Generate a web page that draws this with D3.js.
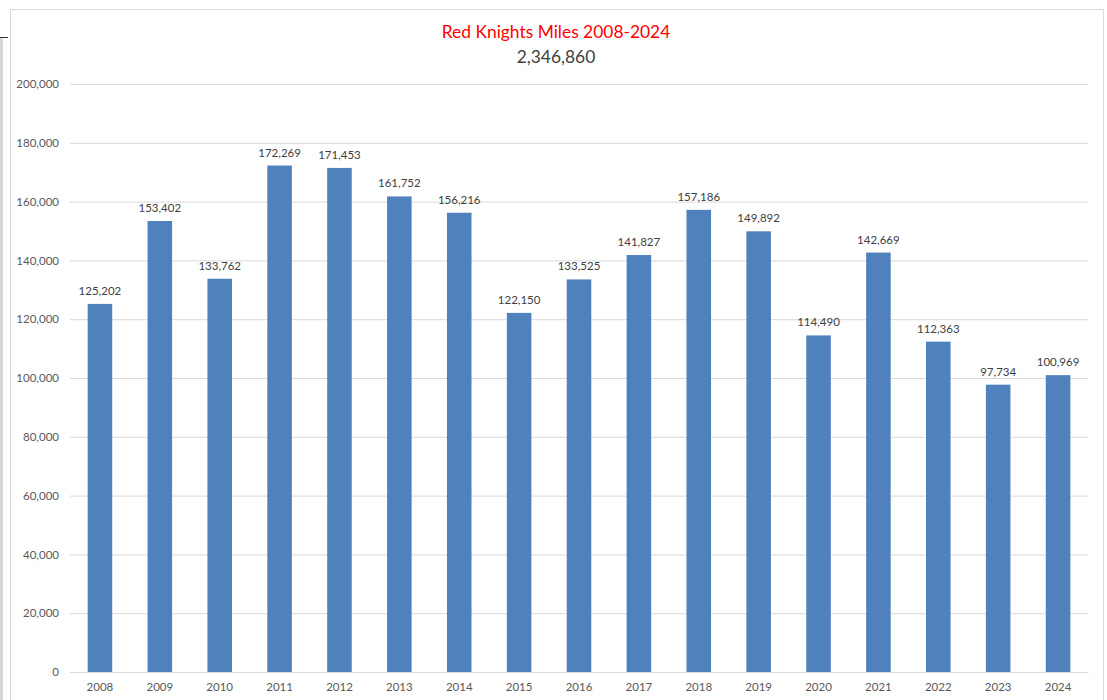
<!DOCTYPE html>
<html>
<head>
<meta charset="utf-8">
<script src="https://cdn.jsdelivr.net/npm/d3@7"></script>
<style>
  body { margin: 0; background: #fff; }
  svg { display: block; font-family: Lato, "Open Sans", sans-serif; }
</style>
</head>
<body>
<div id="chart"></div>
<script>
// data
const years = ["2008","2009","2010","2011","2012","2013","2014","2015","2016","2017","2018","2019","2020","2021","2022","2023","2024"];
const miles = [125202,153402,133762,172269,171453,161752,156216,122150,133525,141827,157186,149892,114490,142669,112363,97734,100969];
const yTicks = [0,20000,40000,60000,80000,100000,120000,140000,160000,180000,200000];
const titleText = "Red Knights Miles 2008-2024";
const totalText = "2,346,860";

const W = 1107, H = 700;
const margin = ({top: 84, right: 19, bottom: 28, left: 70});
const width = W - margin.left - margin.right;
const height = H - margin.top - margin.bottom;

const root = d3.select("#chart").append("svg")
  .attr("width", W)
  .attr("height", H);

// spreadsheet cell edge on the far left
root.append("rect").attr("x", 0).attr("y", 37).attr("width", 3).attr("height", H - 37).attr("fill", "#d6d6d6");
root.append("line").attr("x1", 0).attr("x2", 8).attr("y1", 37.5).attr("y2", 37.5).attr("stroke", "#333");

// chart frame
root.append("rect")
  .attr("x", 10.5).attr("y", 9.5)
  .attr("width", 1093).attr("height", H)
  .attr("fill", "#fff")
  .attr("stroke", "#d9d9d9");

// titles
root.append("text")
  .attr("x", 556).attr("y", 38)
  .attr("text-anchor", "middle")
  .attr("fill", "#ff0000")
  .style("font-size", "17.4px")
  .text(titleText);

root.append("text")
  .attr("x", 556).attr("y", 63)
  .attr("text-anchor", "middle")
  .attr("fill", "#404040")
  .style("font-size", "17.4px")
  .text(totalText);

const svg = root.append("g")
  .attr("transform", `translate(${margin.left},${margin.top})`);

const xScale = d3.scaleBand()
  .domain(years)
  .range([0, width])
  .paddingInner(0.59)
  .paddingOuter(0.295);

const yScale = d3.scaleLinear()
  .domain([0, 200000])
  .range([height, 0]);

// gridlines
svg.append("g")
  .attr("class", "grid")
  .call(d3.axisLeft(yScale).tickValues(yTicks).tickSize(-width).tickFormat(""))
  .call(g => g.select(".domain").remove())
  .call(g => g.selectAll("line").attr("stroke", "#d9d9d9"));

// y axis labels
svg.append("g")
  .attr("class", "axis y-axis")
  .call(d3.axisLeft(yScale).tickValues(yTicks).tickSize(0).tickPadding(11).tickFormat(d3.format(",")))
  .call(g => g.select(".domain").remove())
  .call(g => g.selectAll("text").attr("fill", "#595959").style("font-size", "11.5px").style("font-family", "Lato, sans-serif"));

// bars
svg.selectAll(".bar")
  .data(miles)
  .join("rect")
  .attr("class", "bar")
  .attr("x", (d, i) => xScale(years[i]))
  .attr("y", d => yScale(d))
  .attr("width", xScale.bandwidth())
  .attr("height", d => height - yScale(d))
  .attr("fill", "#4f81bd");

// value labels
svg.selectAll(".val")
  .data(miles)
  .join("text")
  .attr("class", "val")
  .attr("x", (d, i) => xScale(years[i]) + xScale.bandwidth() / 2)
  .attr("y", d => yScale(d) - 9)
  .attr("text-anchor", "middle")
  .attr("fill", "#404040")
  .style("font-size", "11.5px")
  .text(d => d3.format(",")(d));

// x axis
svg.append("g")
  .attr("class", "axis x-axis")
  .attr("transform", `translate(0,${height})`)
  .call(d3.axisBottom(xScale).tickSize(0).tickPadding(11))
  .call(g => g.select(".domain").attr("stroke", "#d9d9d9"))
  .call(g => g.selectAll("text").attr("fill", "#595959").style("font-size", "11.5px").style("font-family", "Lato, sans-serif"));
</script>
</body>
</html>
